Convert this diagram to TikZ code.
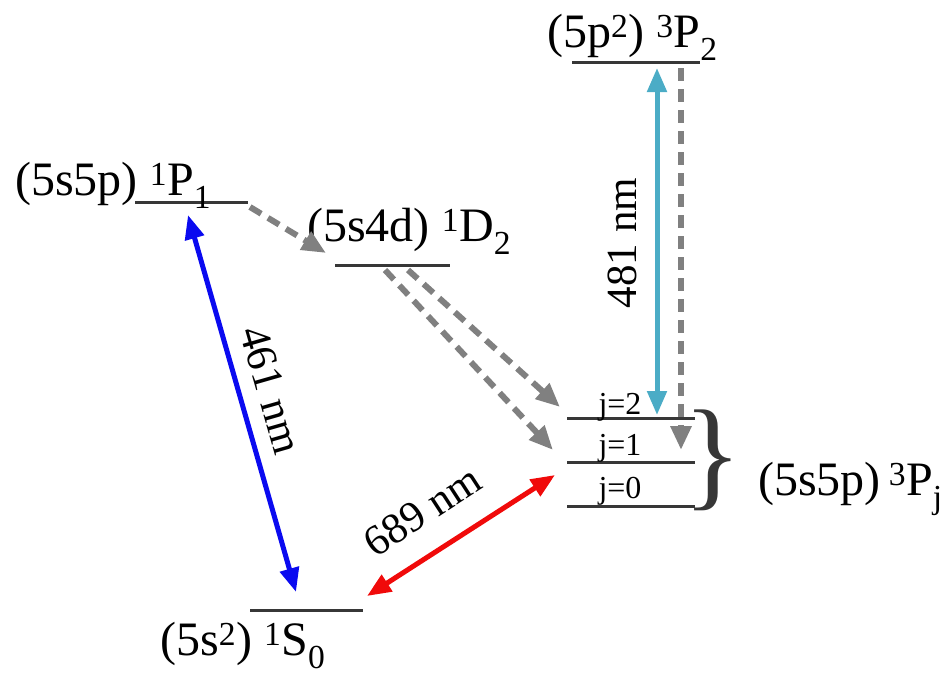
\documentclass[tikz,border=0pt]{standalone}
\usepackage{fontspec}
\setmainfont{Liberation Serif}
\usetikzlibrary{arrows.meta}
\definecolor{levelgray}{RGB}{55,55,55}
\definecolor{decaygray}{RGB}{128,128,128}
\definecolor{aqua}{RGB}{75,172,198}
\definecolor{tblue}{RGB}{10,10,240}
\definecolor{tred}{RGB}{240,10,10}
\begin{document}
\begin{tikzpicture}[x=1pt,y=-1pt,
  level/.style={draw=levelgray, line width=3pt},
  trans/.style={line width=5pt, {Triangle[length=24pt,width=19pt]}-{Triangle[length=24pt,width=19pt]}},
  decay/.style={draw=decaygray, line width=6pt, dash pattern=on 13pt off 8pt, -{Triangle[length=24pt,width=20pt]}},
  lbl/.style={font=\fontsize{48}{50}\selectfont, inner sep=0pt, anchor=base west},
  jlbl/.style={font=\fontsize{32}{34}\selectfont, inner sep=0pt, anchor=base},
  wl/.style={font=\fontsize{43}{45}\selectfont, inner sep=0pt}]
\useasboundingbox (0,0) rectangle (943,675);
% level end points
\coordinate (tpL) at (572,62);  \coordinate (tpR) at (700,62);
\coordinate (ppL) at (135,202); \coordinate (ppR) at (248,202);
\coordinate (dL) at (335,265);  \coordinate (dR) at (450,265);
\coordinate (j2L) at (567,418); \coordinate (j2R) at (695,418);
\coordinate (j1L) at (567,462); \coordinate (j1R) at (695,462);
\coordinate (j0L) at (567,506); \coordinate (j0R) at (695,506);
\coordinate (sL) at (250,610);  \coordinate (sR) at (363,610);
% levels
\draw[level] (tpL) -- (tpR);
\draw[level] (ppL) -- (ppR);
\draw[level] (dL) -- (dR);
\draw[level] (j2L) -- (j2R);
\draw[level] (j1L) -- (j1R);
\draw[level] (j0L) -- (j0R);
\draw[level] (sL) -- (sR);
% labels
\node[lbl] (lTP) at (547,47) {(5p\textsuperscript{2}) \textsuperscript{3}P\textsubscript{2}};
\node[lbl] (lPP) at (15,195) {(5s5p) \textsuperscript{1}P\textsubscript{1}};
\node[lbl] (lD) at (307,241) {(5s4d) \textsuperscript{1}D\textsubscript{2}};
\node[lbl] (lS) at (160,655) {(5s\textsuperscript{2}) \textsuperscript{1}S\textsubscript{0}};
\node[lbl] (lPj) at (758,495) {(5s5p)\,\textsuperscript{3}P\textsubscript{j}};
\node[jlbl] (lj2) at (620,414) {j=2};
\node[jlbl] (lj1) at (620,455) {j=1};
\node[jlbl] (lj0) at (620,498) {j=0};
% brace
\node[inner sep=0pt, text=levelgray, font=\fontsize{122}{122}\selectfont] (brace) at (713,460) {\}};
% transition end points
\coordinate (bA) at (188,215); \coordinate (bB) at (296,592);
\coordinate (rA) at (367,596); \coordinate (rB) at (555,475);
\coordinate (cA) at (657,68);  \coordinate (cB) at (657,415);
\coordinate (gA) at (681,68);  \coordinate (gB) at (681,450);
\coordinate (pA) at (250,207); \coordinate (pB) at (326,253);
\coordinate (dA1) at (385,270); \coordinate (dB1) at (553,450);
\coordinate (dA2) at (408,270); \coordinate (dB2) at (560,407);
% transitions
\draw[trans, tblue] (bA) -- (bB);
\draw[trans, tred] (rA) -- (rB);
\draw[trans, aqua] (cA) -- (cB);
\draw[decay] (gA) -- (gB);
\draw[decay] (pA) -- (pB);
\draw[decay] (dA1) -- (dB1);
\draw[decay] (dA2) -- (dB2);
% wavelength labels
\node[wl, rotate=-74] (w461) at (271,390) {461 nm};
\node[wl, rotate=33] (w689) at (422,511) {689 nm};
\node[wl, rotate=90] (w481) at (622,243) {481 nm};
\end{tikzpicture}
\end{document}
